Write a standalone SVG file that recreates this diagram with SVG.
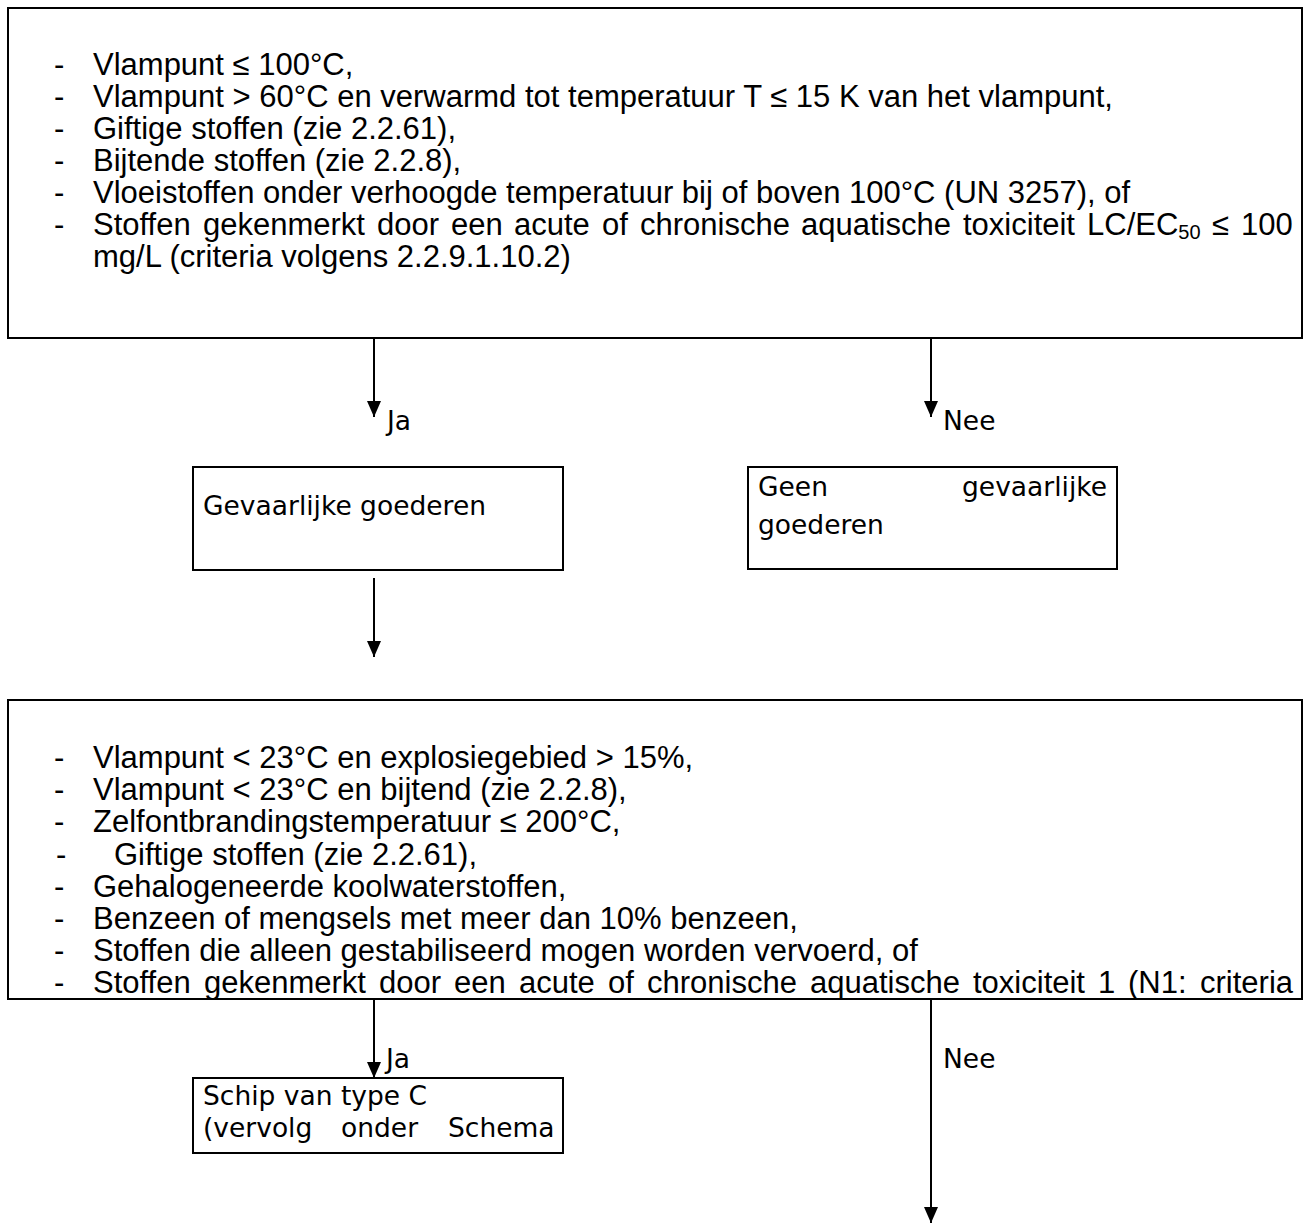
<svg xmlns="http://www.w3.org/2000/svg" width="1304" height="1224" viewBox="0 0 1304 1224">
  <style>
    .box { fill: #ffffff; stroke: #000000; stroke-width: 2; }
    .list { font-family: "Liberation Sans", Arial, sans-serif; font-size: 31px; fill: #000000; }
    .lbl { font-family: "DejaVu Sans", Verdana, sans-serif; font-size: 26.5px; fill: #000000; }
    .conn { stroke: #000000; stroke-width: 2; fill: none; marker-end: url(#arrow); }
    .sub { font-size: 20px; }
  </style>
  <defs>
    <marker id="arrow" viewBox="0 0 16 14" refX="16" refY="7" markerWidth="16" markerHeight="14" markerUnits="userSpaceOnUse" orient="auto">
      <path d="M0,0 L16,7 L0,14 z" fill="#000000"/>
    </marker>
  </defs>
  <rect x="0" y="0" width="1304" height="1224" fill="#ffffff"/>

  <g id="node-criteria1">
    <rect class="box" x="8" y="8" width="1294" height="330"/>
    <text class="list" x="54" y="75">-</text>
    <text class="list" x="93" y="75">Vlampunt ≤ 100°C,</text>
    <text class="list" x="54" y="107">-</text>
    <text class="list" x="93" y="107">Vlampunt &gt; 60°C en verwarmd tot temperatuur T ≤ 15 K van het vlampunt,</text>
    <text class="list" x="54" y="139">-</text>
    <text class="list" x="93" y="139">Giftige stoffen (zie 2.2.61),</text>
    <text class="list" x="54" y="171">-</text>
    <text class="list" x="93" y="171">Bijtende stoffen (zie 2.2.8),</text>
    <text class="list" x="54" y="203">-</text>
    <text class="list" x="93" y="203">Vloeistoffen onder verhoogde temperatuur bij of boven 100°C (UN 3257), of</text>
    <text class="list" x="54" y="235">-</text>
    <text class="list" y="235"><tspan x="93">Stoffen</tspan> <tspan x="203">gekenmerkt</tspan> <tspan x="377">door</tspan> <tspan x="451">een</tspan> <tspan x="514">acute</tspan> <tspan x="602">of</tspan> <tspan x="640">chronische</tspan> <tspan x="801">aquatische</tspan> <tspan x="963">toxiciteit</tspan> <tspan x="1087">LC/EC</tspan><tspan class="sub" dy="4">50</tspan> <tspan x="1212" dy="-4">≤</tspan> <tspan x="1241">100</tspan></text>
    <text class="list" x="93" y="267">mg/L (criteria volgens 2.2.9.1.10.2)</text>
  </g>

  <g id="node-gevaarlijk">
    <rect class="box" x="193" y="467" width="370" height="103"/>
    <text class="lbl" x="203" y="515">Gevaarlijke goederen</text>
  </g>

  <g id="node-geen">
    <rect class="box" x="748" y="467" width="369" height="102"/>
    <text class="lbl" x="758" y="496">Geen</text>
    <text class="lbl" x="1107" y="496" text-anchor="end">gevaarlijke</text>
    <text class="lbl" x="758" y="534">goederen</text>
  </g>

  <g id="node-criteria2">
    <rect class="box" x="8" y="700" width="1294" height="299"/>
    <text class="list" x="54" y="768">-</text>
    <text class="list" x="93" y="768">Vlampunt &lt; 23°C en explosiegebied &gt; 15%,</text>
    <text class="list" x="54" y="800">-</text>
    <text class="list" x="93" y="800">Vlampunt &lt; 23°C en bijtend (zie 2.2.8),</text>
    <text class="list" x="54" y="832">-</text>
    <text class="list" x="93" y="832">Zelfontbrandingstemperatuur ≤ 200°C,</text>
    <text class="list" x="56" y="865">-</text>
    <text class="list" x="114" y="865">Giftige stoffen (zie 2.2.61),</text>
    <text class="list" x="54" y="897">-</text>
    <text class="list" x="93" y="897">Gehalogeneerde koolwaterstoffen,</text>
    <text class="list" x="54" y="929">-</text>
    <text class="list" x="93" y="929">Benzeen of mengsels met meer dan 10% benzeen,</text>
    <text class="list" x="54" y="961">-</text>
    <text class="list" x="93" y="961">Stoffen die alleen gestabiliseerd mogen worden vervoerd, of</text>
    <text class="list" x="54" y="993" fill="#0000ff">-</text>
    <text class="list" y="993"><tspan x="93">Stoffen</tspan> <tspan x="204">gekenmerkt</tspan> <tspan x="379">door</tspan> <tspan x="454">een</tspan> <tspan x="519">acute</tspan> <tspan x="608">of</tspan> <tspan x="647">chronische</tspan> <tspan x="810">aquatische</tspan> <tspan x="973">toxiciteit</tspan> <tspan x="1098">1</tspan> <tspan x="1128">(N1:</tspan> <tspan x="1200">criteria</tspan></text>
  </g>

  <g id="node-schip">
    <rect class="box" x="193" y="1078" width="370" height="75"/>
    <text class="lbl" x="203" y="1105">Schip van type C</text>
    <text class="lbl" y="1137"><tspan x="203">(vervolg</tspan> <tspan x="341">onder</tspan> <tspan x="448">Schema</tspan></text>
  </g>

  <g id="connectors">
    <line class="conn" x1="374" y1="339" x2="374" y2="417"/>
    <text class="lbl" x="387" y="430">Ja</text>
    <line class="conn" x1="931" y1="339" x2="931" y2="417"/>
    <text class="lbl" x="943" y="430">Nee</text>
    <line class="conn" x1="374" y1="578" x2="374" y2="657"/>
    <line class="conn" x1="374" y1="1000" x2="374" y2="1078"/>
    <text class="lbl" x="386" y="1068">Ja</text>
    <line class="conn" x1="931" y1="1000" x2="931" y2="1223"/>
    <text class="lbl" x="943" y="1068">Nee</text>
  </g>
</svg>
